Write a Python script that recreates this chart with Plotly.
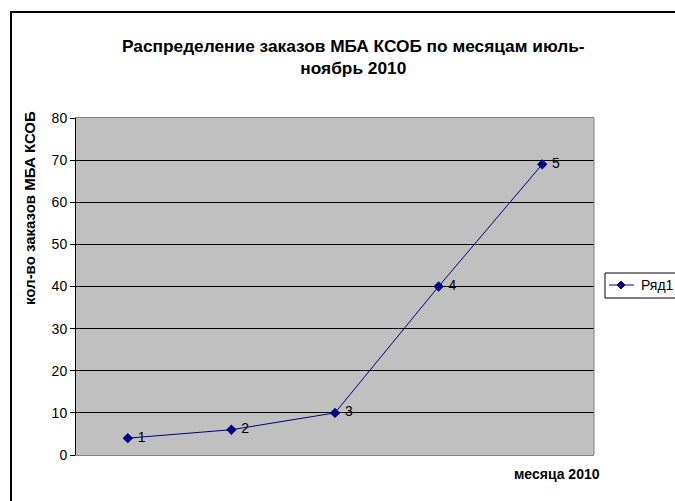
import plotly.graph_objects as go

months = [1, 2, 3, 4, 5]
orders = [4, 6, 10, 40, 69]
labels = ["1", "2", "3", "4", "5"]
series_name = "Ряд1"
y_ticks = [0, 10, 20, 30, 40, 50, 60, 70, 80]

L, R, T, B = 76, 81, 118, 46
W, H = 675, 501
pw, ph = W - L - R, H - T - B
NAVY = "#000080"

def px(x):
    return (x - L) / pw

def py(y):
    return (H - B - y) / ph

fig = go.Figure()
fig.add_trace(go.Scatter(
    x=months, y=orders, text=labels, name=series_name,
    mode="lines+markers+text", textposition="middle right",
    texttemplate=" %{text}",
    textfont=dict(family="Liberation Sans, Arial", size=14, color="black"),
    line=dict(color=NAVY, width=1),
    marker=dict(symbol="diamond", size=8, color=NAVY),
    cliponaxis=False, showlegend=False, hoverinfo="skip",
))

# manual legend (box partly clipped by the page edge, as in the reference)
leg_y = 285
diamond = "M {a},{b} L {c},{d} L {a},{e} L {f},{d} Z".format(
    a=px(621), b=py(leg_y - 4), c=px(625), d=py(leg_y), e=py(leg_y + 4), f=px(617))

fig.update_layout(
    width=W, height=H,
    margin=dict(l=L, r=R, t=T, b=B, autoexpand=False),
    paper_bgcolor="white", plot_bgcolor="#C0C0C0",
    font=dict(family="Liberation Sans, Arial", size=14, color="black"),
    showlegend=False,
    xaxis=dict(range=[0.5, 5.5], showticklabels=False, showgrid=False,
               zeroline=False, showline=True, linecolor="#808080", linewidth=1,
               mirror=True, ticks=""),
    yaxis=dict(range=[0, 80], tickvals=y_ticks, showgrid=True, gridcolor="black",
               gridwidth=1, zeroline=False, showline=True, linecolor="black",
               linewidth=1, ticks="outside", ticklen=5, tickcolor="black",
               tickfont=dict(size=14)),
    shapes=[
        dict(type="rect", xref="paper", yref="paper",
             x0=px(11), x1=px(700), y0=py(12), y1=py(520),
             line=dict(color="black", width=2), fillcolor="rgba(0,0,0,0)", layer="above"),
        dict(type="line", xref="paper", yref="paper", x0=1, x1=1, y0=0, y1=1,
             line=dict(color="#808080", width=1)),
        dict(type="rect", xref="paper", yref="paper",
             x0=px(605), x1=px(720), y0=py(273), y1=py(298),
             line=dict(color="black", width=1), fillcolor="white"),
        dict(type="line", xref="paper", yref="paper",
             x0=px(609), x1=px(634), y0=py(leg_y), y1=py(leg_y),
             line=dict(color=NAVY, width=1)),
        dict(type="path", xref="paper", yref="paper", path=diamond,
             fillcolor=NAVY, line=dict(color=NAVY, width=1)),
    ],
    annotations=[
        dict(text="<b>Распределение заказов МБА КСОБ по месяцам июль-<br>ноябрь 2010</b>",
             xref="paper", yref="paper", x=px(353), y=py(57), showarrow=False,
             xanchor="center", yanchor="middle", font=dict(size=17.3),
             align="center"),
        dict(text="<b>кол-во заказов МБА КСОБ</b>", textangle=-90,
             xref="paper", yref="paper", x=px(29), y=py(208), showarrow=False,
             xanchor="center", yanchor="middle", font=dict(size=15)),
        dict(text="<b>месяца 2010</b>",
             xref="paper", yref="paper", x=px(557), y=py(474), showarrow=False,
             xanchor="center", yanchor="middle", font=dict(size=14)),
        dict(text=series_name,
             xref="paper", yref="paper", x=px(639), y=py(leg_y), showarrow=False,
             xanchor="left", yanchor="middle", font=dict(size=14)),
    ],
)

fig.write_html("out.html", config={"displayModeBar": False},
               post_script="document.body.style.margin='0';document.body.style.overflow='hidden';")
